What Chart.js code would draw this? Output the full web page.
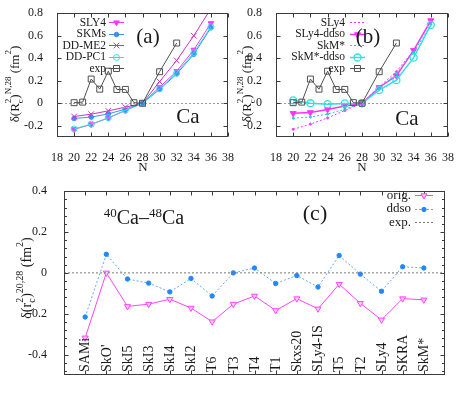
<!DOCTYPE html>
<html><head><meta charset="utf-8">
<script src="https://cdn.jsdelivr.net/npm/chart.js@4.4.1/dist/chart.umd.min.js"></script>
<style>
html,body{margin:0;padding:0;background:#fff;width:469px;height:402px;overflow:hidden;}
.box{position:absolute;overflow:hidden;}
.box canvas{display:block;}
</style></head><body>
<div class="box" style="left:0px;top:0px;width:240px;height:180px"><canvas id="ca" width="240" height="180" style="width:240px;height:180px"></canvas></div>
<div class="box" style="left:232px;top:0px;width:237px;height:180px"><canvas id="cb" width="237" height="180" style="width:237px;height:180px"></canvas></div>
<div class="box" style="left:0px;top:175px;width:469px;height:227px"><canvas id="cc" width="469" height="227" style="width:469px;height:227px"></canvas></div>
<script>
// ---------- data ----------
const nTheory = [20, 22, 24, 26, 28, 30, 32, 34, 36];
const nExp = [20, 21, 22, 23, 24, 25, 26, 27, 28, 30, 32];
const expCa = [0.005, 0.01, 0.215, 0.125, 0.285, 0.122, 0.123, 0.005, 0, 0.28, 0.535];
// panel (a)
const sly4A  = [-0.232, -0.188, -0.131, -0.065, 0, 0.143, 0.285, 0.475, 0.71];
const skmsA  = [-0.135, -0.123, -0.095, -0.052, 0, 0.123, 0.26, 0.435, 0.67];
const ddme2A = [-0.118, -0.097, -0.068, -0.035, 0, 0.192, 0.38, 0.6, 0.84];
const ddpc1A = [-0.228, -0.186, -0.129, -0.062, 0, 0.13, 0.27, 0.45, 0.68];
// panel (b)
const sly4B     = [-0.232, -0.186, -0.13, -0.065, 0, 0.145, 0.28, 0.47, 0.73];
const sly4ddsoB = [-0.09, -0.082, -0.055, -0.025, 0, 0.14, 0.245, 0.47, 0.735];
const skmB      = [-0.133, -0.123, -0.096, -0.053, 0, 0.128, 0.265, 0.45, 0.70];
const skmddsoB  = [0.025, 0.0, -0.008, -0.002, 0, 0.117, 0.205, 0.405, 0.695];
const xTicksN = [18, 20, 22, 24, 26, 28, 30, 32, 34, 36, 38];
const yTicksN = [-0.2, 0, 0.2, 0.4, 0.6, 0.8];
// panel (c)
const forcesC = ['SAMi', "SkO'", 'SkI5', 'SkI3', 'SkI4', 'SkI2', 'T6', 'T3', 'T4', 'T1', 'Skxs20', 'SLy4-IS', 'T5', 'T2', 'SLy4', 'SKRA', 'SkM*'];
const origC = [-0.318, 0.0, -0.164, -0.153, -0.129, -0.172, -0.239, -0.153, -0.113, -0.184, -0.126, -0.176, -0.055, -0.149, -0.23, -0.126, -0.132];
const ddsoC = [-0.216, 0.091, -0.030, -0.05, -0.093, -0.027, -0.113, 0.0, 0.024, -0.052, -0.013, -0.069, 0.085, -0.006, -0.090, 0.030, 0.024];
const expC = [0];
const yTicksC = [-0.4, -0.2, 0, 0.2, 0.4];

// ---------- helpers ----------
const FAM = "'Liberation Serif', 'DejaVu Serif', serif";
Chart.defaults.font.family = FAM;
Chart.defaults.color = '#1a1a1a';

function xy(xs, ys) { return ys.map((v, i) => ({ x: xs[i], y: v })); }
function ds(label, data, st, i) {
  return Object.assign({ label, data, borderWidth: 1, pointBorderWidth: 1, fill: false, tension: 0, order: -i }, st);
}
function drawMarker(ctx, style, r, rot, x, y, fill, stroke, bw) {
  if (!r) return;
  ctx.save(); ctx.translate(x, y); ctx.rotate((rot || 0) * Math.PI / 180);
  ctx.beginPath();
  const s = r * Math.SQRT1_2;
  if (style === 'triangle') { ctx.moveTo(0, -r); ctx.lineTo(r * 0.866, r * 0.5); ctx.lineTo(-r * 0.866, r * 0.5); ctx.closePath(); }
  else if (style === 'rect') { ctx.rect(-s, -s, 2 * s, 2 * s); }
  else if (style === 'crossRot') { ctx.moveTo(-s, -s); ctx.lineTo(s, s); ctx.moveTo(-s, s); ctx.lineTo(s, -s); }
  else { ctx.arc(0, 0, r, 0, 2 * Math.PI); }
  ctx.setLineDash([]);
  ctx.fillStyle = fill; ctx.strokeStyle = stroke; ctx.lineWidth = bw;
  if (style !== 'crossRot') ctx.fill();
  ctx.stroke();
  ctx.restore();
}
function rich(ctx, parts, cx, cy, rot) {
  ctx.save(); ctx.translate(cx, cy); ctx.rotate(rot);
  ctx.textAlign = 'left'; ctx.textBaseline = 'alphabetic'; ctx.fillStyle = '#1a1a1a';
  const ws = parts.map(p => { ctx.font = p.s + 'px ' + FAM; return ctx.measureText(p.t).width; });
  let w = 0, pend = 0;
  parts.forEach((p, i) => { if (p.stack) pend = ws[i]; else { w += Math.max(ws[i], pend); pend = 0; } });
  let x = -w / 2; pend = 0;
  parts.forEach((p, i) => {
    ctx.font = p.s + 'px ' + FAM;
    ctx.fillText(p.t, x, p.dy);
    if (p.stack) pend = ws[i]; else { x += Math.max(ws[i], pend); pend = 0; }
  });
  ctx.restore();
}

const deco = {};
const decoPlugin = {
  id: 'deco',
  beforeDatasetsDraw(chart) {
    const o = deco[chart.canvas.id]; if (!o || !o.zeroLine) return;
    const { ctx, chartArea: a, scales: { y } } = chart;
    const py = Math.round(y.getPixelForValue(0)) + 0.5;
    ctx.save(); ctx.strokeStyle = '#9a9a9a'; ctx.lineWidth = 1; ctx.setLineDash([2, 2]);
    ctx.beginPath(); ctx.moveTo(a.left, py); ctx.lineTo(a.right, py); ctx.stroke(); ctx.restore();
  },
  afterDraw(chart) {
    const o = deco[chart.canvas.id]; if (!o) return;
    const { ctx, chartArea: a, scales } = chart;
    ctx.save();
    const L = Math.round(a.left) + 0.5, R = Math.round(a.right) - 0.5, T = Math.round(a.top) + 0.5, B = Math.round(a.bottom) - 0.5;
    ctx.strokeStyle = '#3a3a3a'; ctx.lineWidth = 1; ctx.setLineDash([]);
    ctx.strokeRect(L, T, R - L, B - T);
    ctx.beginPath();
    const tl = 4;
    scales.x.ticks.forEach(t => {
      const p = Math.round(scales.x.getPixelForValue(t.value)) + 0.5;
      ctx.moveTo(p, B); ctx.lineTo(p, B - tl); ctx.moveTo(p, T); ctx.lineTo(p, T + tl);
    });
    scales.y.ticks.forEach(t => {
      const p = Math.round(scales.y.getPixelForValue(t.value)) + 0.5;
      ctx.moveTo(L, p); ctx.lineTo(L + tl, p); ctx.moveTo(R, p); ctx.lineTo(R - tl, p);
    });
    if (o.minorY) {
      const k0 = Math.ceil(scales.y.min / o.minorY - 1e-6), k1 = Math.floor(scales.y.max / o.minorY + 1e-6);
      for (let k = k0; k <= k1; k++) {
        const p = Math.round(scales.y.getPixelForValue(k * o.minorY)) + 0.5;
        ctx.moveTo(L, p); ctx.lineTo(L + 2.5, p); ctx.moveTo(R, p); ctx.lineTo(R - 2.5, p);
      }
    }
    ctx.stroke();
    if (o.catLabels) {
      ctx.fillStyle = '#1a1a1a'; ctx.font = o.catFont + 'px ' + FAM;
      ctx.textAlign = 'left'; ctx.textBaseline = 'middle';
      o.catLabels.forEach((lab, i) => {
        const px = scales.x.getPixelForValue(i + 1);
        ctx.save(); ctx.translate(px, a.bottom - 3); ctx.rotate(-Math.PI / 2); ctx.fillText(lab, 0, 0.5); ctx.restore();
      });
    }
    if (o.leg) {
      const g = o.leg;
      ctx.font = g.font + 'px ' + FAM; ctx.textAlign = 'right'; ctx.textBaseline = 'middle';
      chart.data.datasets.forEach((d, i) => {
        const yy = g.y0 + i * g.dy;
        ctx.fillStyle = '#1a1a1a'; ctx.fillText(d.label, g.x, yy + 0.5);
        ctx.save(); ctx.strokeStyle = d.borderColor; ctx.lineWidth = d.borderWidth; ctx.setLineDash(d.borderDash || []);
        ctx.beginPath(); ctx.moveTo(g.s0, Math.round(yy) + 0.5); ctx.lineTo(g.s1, Math.round(yy) + 0.5); ctx.stroke(); ctx.restore();
        drawMarker(ctx, d.pointStyle, d.legendRadius !== undefined ? d.legendRadius : d.pointRadius, d.pointRotation, (g.s0 + g.s1) / 2, Math.round(yy) + 0.5,
          d.pointBackgroundColor, d.pointBorderColor, d.pointBorderWidth);
      });
    }
    (o.texts || []).forEach(t => {
      ctx.fillStyle = '#1a1a1a'; ctx.font = t.s + 'px ' + FAM; ctx.textAlign = 'center'; ctx.textBaseline = 'middle';
      ctx.fillText(t.t, t.x, t.y);
    });
    (o.rich || []).forEach(r => rich(ctx, r.parts, r.x, r.y, r.rot));
    ctx.restore();
  }
};

function ytitle(sym, sups) {
  return [
    { t: 'δ(' + sym, s: 13, dy: 4 }, { t: 'c', s: 9, dy: 8, stack: true }, { t: '2', s: 9, dy: -4 },
    { t: ')', s: 13, dy: 4 }, { t: sups, s: 9, dy: -4 }, { t: ' (fm', s: 13, dy: 4 }, { t: '2', s: 9, dy: -4 }, { t: ')', s: 13, dy: 4 }
  ];
}

function nScales(yw) {
  return {
    x: {
      type: 'linear', min: 18, max: 38,
      afterBuildTicks: s => { s.ticks = xTicksN.map(v => ({ value: v })); },
      afterFit: s => { s.height = 43; },
      grid: { display: false }, border: { display: false },
      ticks: { font: { size: 12 }, padding: 6, maxRotation: 0, minRotation: 0, autoSkip: false, callback: v => String(v) }
    },
    y: {
      type: 'linear', min: -0.3, max: 0.8,
      afterBuildTicks: s => { s.ticks = yTicksN.map(v => ({ value: v })); },
      afterFit: s => { s.width = yw; },
      grid: { display: false }, border: { display: false },
      ticks: { font: { size: 12 }, padding: 6, autoSkip: false, callback: v => String(Math.round(v * 10) / 10) }
    }
  };
}
const baseOpts = { responsive: false, maintainAspectRatio: false, animation: false, devicePixelRatio: 1, events: [] };

const MAG = '#ff33ff', BLUE = '#3d8eff', PURP = '#c535c5', CYAN = '#33dede', GREY = '#505050', CYAN2 = '#1fcccc';
const NONE = 'rgba(0,0,0,0)';
deco.ca = {
  zeroLine: true,
  leg: { x: 106, y0: 22, dy: 11.5, s0: 109, s1: 124, font: 11.5 },
  texts: [{ t: '(a)', x: 148, y: 37, s: 21 }, { t: 'Ca', x: 188, y: 117, s: 21 }, { t: 'N', x: 143, y: 168, s: 13 }],
  rich: [{ parts: ytitle('R', 'N,28'), x: 15, y: 84, rot: -Math.PI / 2 }]
};
new Chart(document.getElementById('ca'), {
  type: 'line',
  data: {
    datasets: [
      ds('SLY4', xy(nTheory, sly4A), { borderColor: MAG, pointBackgroundColor: MAG, pointBorderColor: MAG, pointStyle: 'triangle', pointRotation: 180, pointRadius: 3.2 }, 0),
      ds('SKMs', xy(nTheory, skmsA), { borderColor: BLUE, pointBackgroundColor: BLUE, pointBorderColor: BLUE, pointStyle: 'circle', pointRadius: 2.3 }, 1),
      ds('DD-ME2', xy(nTheory, ddme2A), { borderColor: PURP, pointBackgroundColor: PURP, pointBorderColor: PURP, pointStyle: 'crossRot', pointRadius: 4 }, 2),
      ds('DD-PC1', xy(nTheory, ddpc1A), { borderColor: CYAN, pointBackgroundColor: NONE, pointBorderColor: CYAN, pointStyle: 'circle', pointRadius: 3 }, 3),
      ds('exp', xy(nExp, expCa), { borderColor: GREY, pointBackgroundColor: NONE, pointBorderColor: GREY, pointStyle: 'rect', pointRadius: 4.2 }, 4)
    ]
  },
  options: Object.assign({}, baseOpts, {
    layout: { padding: { top: 13, right: 10.5, left: 0, bottom: 0 } },
    plugins: { legend: { display: false }, tooltip: { enabled: false } },
    scales: nScales(57)
  }),
  plugins: [decoPlugin]
});

deco.cb = {
  zeroLine: true,
  leg: { x: 113, y0: 22, dy: 11.5, s0: 118, s1: 133, font: 11.5 },
  texts: [{ t: '(b)', x: 136, y: 37, s: 21 }, { t: 'Ca', x: 175, y: 119, s: 21 }, { t: 'N', x: 130, y: 168, s: 13 }],
  rich: [{ parts: ytitle('R', 'N,28'), x: 15, y: 84, rot: -Math.PI / 2 }]
};
new Chart(document.getElementById('cb'), {
  type: 'line',
  data: {
    datasets: [
      ds('SLy4', xy(nTheory, sly4B), { borderColor: MAG, borderDash: [2, 2], pointBackgroundColor: MAG, pointBorderColor: MAG, pointStyle: 'circle', pointRadius: 1, legendRadius: 0 }, 0),
      ds('SLy4-ddso', xy(nTheory, sly4ddsoB), { borderColor: MAG, borderWidth: 1.5, pointBackgroundColor: MAG, pointBorderColor: MAG, pointStyle: 'triangle', pointRotation: 180, pointRadius: 3.5 }, 1),
      ds('SkM*', xy(nTheory, skmB), { borderColor: CYAN2, borderDash: [2, 2], pointBackgroundColor: CYAN2, pointBorderColor: CYAN2, pointStyle: 'circle', pointRadius: 1, legendRadius: 0 }, 2),
      ds('SkM*-ddso', xy(nTheory, skmddsoB), { borderColor: CYAN, borderWidth: 1.5, pointBackgroundColor: NONE, pointBorderColor: CYAN, pointBorderWidth: 1.3, pointStyle: 'circle', pointRadius: 3.5 }, 3),
      ds('exp', xy(nExp, expCa), { borderColor: GREY, pointBackgroundColor: NONE, pointBorderColor: GREY, pointStyle: 'rect', pointRadius: 4.2 }, 4)
    ]
  },
  options: Object.assign({}, baseOpts, {
    layout: { padding: { top: 13, right: 21, left: 0, bottom: 0 } },
    plugins: { legend: { display: false }, tooltip: { enabled: false } },
    scales: nScales(44)
  }),
  plugins: [decoPlugin]
});

const MAGC = '#ff44ff', BLUEC = '#2288ff', BLUEL = '#66aaff';
const XC_MIN = 0, XC_MAX = forcesC.length + 1;
deco.cc = {
  zeroLine: false,
  minorY: 0.04,
  catLabels: forcesC, catFont: 14,
  leg: { x: 411, y0: 20, dy: 13.5, s0: 415, s1: 433, font: 13 },
  texts: [{ t: '(c)', x: 315, y: 39, s: 22 }],
  rich: [
    { parts: [{ t: '40', s: 13, dy: -7 }, { t: 'Ca–', s: 20, dy: 0 }, { t: '48', s: 13, dy: -7 }, { t: 'Ca', s: 20, dy: 0 }], x: 144, y: 49, rot: 0 },
    { parts: [
      { t: 'δ(r', s: 14, dy: 4 }, { t: 'c', s: 10, dy: 8, stack: true }, { t: '2', s: 10, dy: -4 },
      { t: ')', s: 14, dy: 4 }, { t: '20,28', s: 10, dy: -4 }, { t: ' (fm', s: 14, dy: 4 }, { t: '2', s: 10, dy: -4 }, { t: ')', s: 14, dy: 4 }
    ], x: 27, y: 103, rot: -Math.PI / 2 }
  ]
};
const catIdx = forcesC.map((_, i) => i + 1);
new Chart(document.getElementById('cc'), {
  type: 'line',
  data: {
    datasets: [
      ds('orig.', xy(catIdx, origC), { borderColor: MAGC, pointBackgroundColor: '#ffc8ff', pointBorderColor: MAGC, pointStyle: 'triangle', pointRotation: 180, pointRadius: 3.5 }, 0),
      ds('ddso', xy(catIdx, ddsoC), { borderColor: BLUEL, borderDash: [2, 2], pointBackgroundColor: BLUEC, pointBorderColor: BLUEC, pointStyle: 'circle', pointRadius: 2.2 }, 1),
      ds('exp.', [{ x: XC_MIN, y: expC[0] }, { x: XC_MAX, y: expC[0] }], { borderColor: '#777', borderDash: [2, 2], pointRadius: 0, pointBackgroundColor: NONE, pointBorderColor: NONE }, 2)
    ]
  },
  options: Object.assign({}, baseOpts, {
    layout: { padding: { top: 9, right: 24, left: 0, bottom: 0 } },
    plugins: { legend: { display: false }, tooltip: { enabled: false } },
    scales: {
      x: {
        type: 'linear', min: XC_MIN, max: XC_MAX,
        afterBuildTicks: s => { s.ticks = catIdx.map(v => ({ value: v })); },
        afterFit: s => { s.height = 27; },
        grid: { display: false }, border: { display: false },
        ticks: { display: false }
      },
      y: {
        type: 'linear', min: -0.5, max: 0.4,
        afterBuildTicks: s => { s.ticks = yTicksC.map(v => ({ value: v })); },
        afterFit: s => { s.width = 64; },
        grid: { display: false }, border: { display: false },
        ticks: { font: { size: 12 }, padding: 9, autoSkip: false, callback: v => String(Math.round(v * 10) / 10) }
      }
    }
  }),
  plugins: [decoPlugin]
});
</script>
</body></html>
